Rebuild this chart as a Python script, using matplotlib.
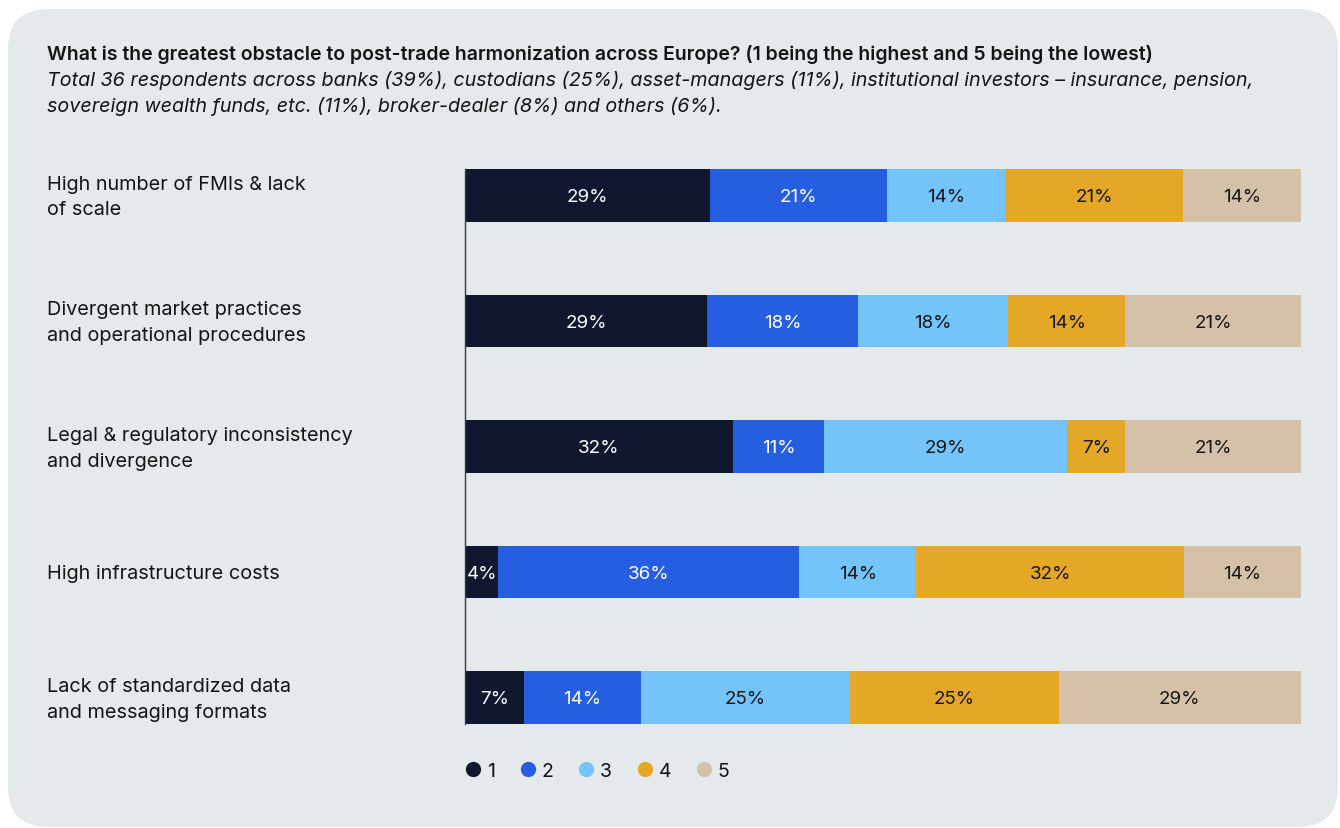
"""Stacked horizontal bars: ranking of obstacles to post-trade harmonization."""
import matplotlib.pyplot as plt
import numpy as np
from matplotlib.lines import Line2D
from matplotlib.patches import FancyBboxPatch
from matplotlib.transforms import blended_transform_factory

PANEL = "#e4e9ec"
INK = "#141414"
COLORS = ["#10182f", "#255ee0", "#74c4fb", "#e4a826", "#d5c1a7"]
TEXT_ON = ["white", "white", INK, INK, INK]

TITLE = ("What is the greatest obstacle to post-trade harmonization across Europe? "
         "(1 being the highest and 5 being the lowest)")
SUBTITLE = ("Total 36 respondents across banks (39%), custodians (25%), asset-managers (11%), "
            "institutional investors \u2013 insurance, pension,\n"
            "sovereign wealth funds, etc. (11%), broker-dealer (8%) and others (6%).")

CATEGORIES = [
    "High number of FMIs & lack\nof scale",
    "Divergent market practices\nand operational procedures",
    "Legal & regulatory inconsistency\nand divergence",
    "High infrastructure costs",
    "Lack of standardized data\nand messaging formats",
]
RANKS = ["1", "2", "3", "4", "5"]
RANK_1 = [29, 29, 32, 4, 7]
RANK_2 = [21, 18, 11, 36, 14]
RANK_3 = [14, 18, 29, 14, 25]
RANK_4 = [21, 14, 7, 32, 25]
RANK_5 = [14, 21, 21, 14, 29]


def main():
    plt.rcParams["font.family"] = ["Inter", "DejaVu Sans"]
    W, H = 1340, 829
    fig = plt.figure(figsize=(W / 100, H / 100), dpi=100, facecolor="white")

    panel = FancyBboxPatch((8 / W, 1 / H), 1330 / W, (H - 10 - 1) / H,
                           boxstyle="round,pad=0,rounding_size=0.03",
                           transform=fig.transFigure, facecolor=PANEL, edgecolor="none",
                           mutation_aspect=W / H, zorder=-5)
    fig.patches.append(panel)

    fig.text(47 / W, 1 - 55 / H, TITLE, fontsize=14, fontweight="semibold", color=INK,
             ha="left", va="center")
    fig.text(47 / W, 1 - 71 / H, SUBTITLE, fontsize=14.2, style="italic", color=INK,
             ha="left", va="top", linespacing=1.45)

    ax = fig.add_axes([465 / W, 1 - 725 / H, (1301 - 465) / W, (725 - 170) / H])
    ax.set_facecolor("none")

    data = np.array([RANK_1, RANK_2, RANK_3, RANK_4, RANK_5], dtype=float)
    shares = data / data.sum(axis=0)
    y = np.arange(len(CATEGORIES))
    height = 0.42
    left = np.zeros(len(CATEGORIES))
    for k in range(len(RANKS)):
        ax.barh(y, shares[k], height, left=left, color=COLORS[k], linewidth=0, zorder=2)
        for i in range(len(CATEGORIES)):
            ax.text(left[i] + shares[k][i] / 2, y[i] + 0.01, f"{int(data[k][i])}%",
                    ha="center", va="center", fontsize=13.5, color=TEXT_ON[k], zorder=3)
        left += shares[k]

    ax.set_xlim(0, 1)
    ax.set_ylim(len(CATEGORIES) - 1 + height / 2, -height / 2)
    for side in ["top", "right", "bottom"]:
        ax.spines[side].set_visible(False)
    ax.spines["left"].set_color("#3a3a3a")
    ax.spines["left"].set_linewidth(1.0)
    ax.set_xticks([])
    ax.set_yticks([])

    trans = blended_transform_factory(fig.transFigure, ax.transData)
    for i, label in enumerate(CATEGORIES):
        fig.text(47 / W, y[i] + 0.01, label, transform=trans, ha="left", va="center",
                 fontsize=14.3, color=INK, linespacing=1.55)

    handles = [Line2D([], [], marker="o", linestyle="none", markersize=11,
                      markerfacecolor=c, markeredgewidth=0) for c in COLORS]
    leg = fig.legend(handles, RANKS, loc="center left", bbox_to_anchor=(446 / W, 1 - 772 / H),
                     ncol=5, frameon=False, fontsize=14, handletextpad=0.2,
                     columnspacing=1.2, handlelength=1.0)
    for t in leg.get_texts():
        t.set_color(INK)

    fig.savefig("out.png", dpi=100, facecolor="white")
    plt.close(fig)


if __name__ == "__main__":
    main()
